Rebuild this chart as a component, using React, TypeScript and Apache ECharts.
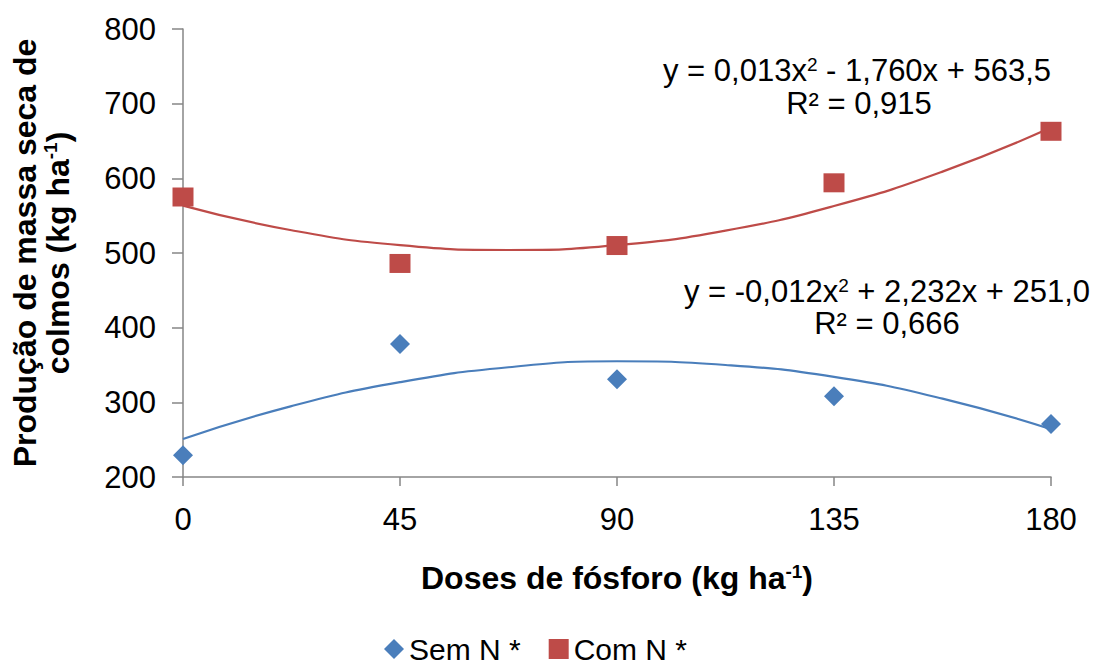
import React, { useEffect, useRef } from "react";
import * as echarts from "echarts";

const doses = [0, 45, 90, 135, 180];
const semN = [229, 378, 331, 308, 271];
const comN = [575, 486, 510, 594, 663];

// trendline values
const trendX = [0, 22.5, 45, 67.5, 90, 112.5, 135, 157.5, 180];
const semTrend = [251, 295, 327, 347, 355, 350, 334, 305, 264];
const comTrend = [563.5, 530.5, 510.5, 504, 510.5, 530, 563, 609, 668];

const xTicks = { min: 0, max: 180, interval: 45 };
const yTicks = { min: 200, max: 800, interval: 100 };

const BLUE = "#4A7EBB";
const RED = "#BE4B48";
const FONT = "Liberation Sans";
const FS = 31;

const pairs = (xs: number[], ys: number[]) => xs.map((x, i) => [x, ys[i]]);

export default function App() {
  const ref = useRef<HTMLDivElement>(null);
  useEffect(() => {
    if (!ref.current) return;
    const chart = echarts.init(ref.current, undefined, { renderer: "svg" });
    const sup = { fontSize: 19, verticalAlign: "top", lineHeight: 31, fontFamily: FONT, fill: "#000", color: "#000" };
    chart.setOption({
      animation: false,
      backgroundColor: "#fff",
      textStyle: { fontFamily: FONT },
      grid: { left: 179, right: 48, top: 29, bottom: 191, containLabel: false },
      legend: {
        data: [
          { name: "Sem N *", icon: "diamond" },
          { name: "Com N *", icon: "rect" },
        ],
        left: 384,
        top: 634,
        padding: 0,
        itemWidth: 20,
        itemHeight: 20,
        itemGap: 28,
        textStyle: { fontSize: 30, lineHeight: 30, color: "#000", fontFamily: FONT },
      },
      xAxis: {
        type: "value",
        ...xTicks,
        name: "Doses de fósforo (kg ha{sup|-1})",
        nameLocation: "middle",
        nameGap: 85,
        nameTextStyle: {
          fontSize: 32,
          fontWeight: "bold",
          color: "#000",
          fontFamily: FONT,
          rich: { sup: { ...sup, fontWeight: "bold", lineHeight: 32 } },
        },
        axisLine: { show: true, lineStyle: { color: "#868686", width: 1.5 } },
        axisTick: { show: true, length: 9, lineStyle: { color: "#868686", width: 1.5 } },
        axisLabel: { fontSize: FS, color: "#000", margin: 27, fontFamily: FONT },
        splitLine: { show: false },
      },
      yAxis: {
        type: "value",
        ...yTicks,
        name: "Produção de massa seca de\ncolmos (kg ha{sup|-1})",
        nameLocation: "middle",
        nameGap: 109,
        nameTextStyle: {
          fontSize: 32,
          fontWeight: "bold",
          color: "#000",
          lineHeight: 33,
          fontFamily: FONT,
          rich: { sup: { ...sup, fontWeight: "bold", lineHeight: 33 } },
        },
        axisLine: { show: true, lineStyle: { color: "#868686", width: 1.5 } },
        axisTick: { show: true, length: 11, lineStyle: { color: "#868686", width: 1.5 } },
        axisLabel: { fontSize: FS, color: "#000", margin: 27, fontFamily: FONT },
        splitLine: { show: false },
      },
      graphic: [
        {
          type: "text",
          x: 857,
          y: 70,
          style: {
            text: "y = 0,013x{sup|2} - 1,760x + 563,5",
            font: `${FS}px ${FONT}`,
            fill: "#000",
            align: "center",
            verticalAlign: "middle",
            rich: { sup },
          },
        },
        {
          type: "text",
          x: 859,
          y: 103,
          style: {
            text: "R² = 0,915",
            font: `${FS}px ${FONT}`,
            fill: "#000",
            align: "center",
            verticalAlign: "middle",
          },
        },
        {
          type: "text",
          x: 887,
          y: 291,
          style: {
            text: "y = -0,012x{sup|2} + 2,232x + 251,0",
            font: `${FS}px ${FONT}`,
            fill: "#000",
            align: "center",
            verticalAlign: "middle",
            rich: { sup },
          },
        },
        {
          type: "text",
          x: 887,
          y: 323,
          style: {
            text: "R² = 0,666",
            font: `${FS}px ${FONT}`,
            fill: "#000",
            align: "center",
            verticalAlign: "middle",
          },
        },
      ],
      series: [
        {
          name: "Sem N trend",
          type: "line",
          smooth: true,
          showSymbol: false,
          data: pairs(trendX, semTrend),
          lineStyle: { color: BLUE, width: 2.2 },
          itemStyle: { color: BLUE },
          silent: true,
          z: 1,
        },
        {
          name: "Com N trend",
          type: "line",
          smooth: true,
          showSymbol: false,
          data: pairs(trendX, comTrend),
          lineStyle: { color: RED, width: 2.2 },
          itemStyle: { color: RED },
          silent: true,
          z: 1,
        },
        {
          name: "Sem N *",
          type: "scatter",
          symbol: "diamond",
          symbolSize: 20,
          data: pairs(doses, semN),
          itemStyle: { color: BLUE, opacity: 1 },
          z: 3,
        },
        {
          name: "Com N *",
          type: "scatter",
          symbol: "rect",
          symbolSize: [21, 19],
          data: pairs(doses, comN),
          itemStyle: { color: RED, opacity: 1 },
          z: 3,
        },
      ],
    });
    return () => chart.dispose();
  }, []);
  return (
    <div
      ref={ref}
      style={{ position: "fixed", left: 0, top: 0, width: 1099, height: 668 }}
    />
  );
}
